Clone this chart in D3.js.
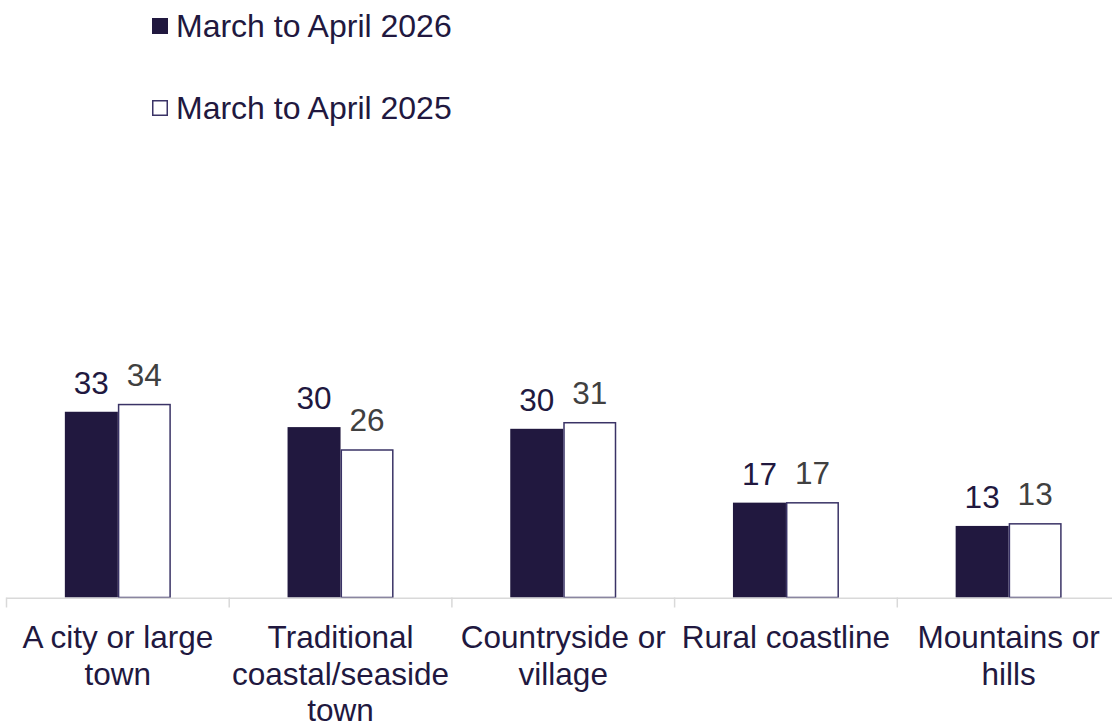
<!DOCTYPE html>
<html>
<head>
<meta charset="utf-8">
<script src="https://cdn.jsdelivr.net/npm/d3@7"></script>
<style>
  html, body { margin: 0; padding: 0; background: #ffffff; }
  svg { display: block; font-family: "Liberation Sans", Arial, sans-serif; }
</style>
</head>
<body>
<svg id="chart" width="1112" height="721"></svg>
<script>
const categories = ["A city or large town", "Traditional coastal/seaside town", "Countryside or village", "Rural coastline", "Mountains or hills"];
const seriesNames = ["March to April 2026", "March to April 2025"];
const values2026 = [32.7, 30.0, 29.7, 16.7, 12.6];
const values2025 = [34.1, 26.1, 30.9, 16.8, 13.1];

const W = 1112, H = 721;
const baseY = 597.5;
const svg = d3.select("#chart");

const navy = "#21183f";
const outline = "#3a3366";
const grey = "#404040";
const axisGrey = "#d9d9d9";

const x0 = d3.scaleBand().domain(categories).range([6.5, 1120]).paddingInner(0).paddingOuter(0);
const pairWidth = 106;
const x1 = d3.scaleBand().domain(seriesNames).range([0, pairWidth]).padding(0);
const y = d3.scaleLinear().domain([0, 40]).range([baseY, baseY - 40 * 5.68]);

const data = categories.map((c, i) => ({ cat: c, vals: [
  { s: seriesNames[0], v: values2026[i] },
  { s: seriesNames[1], v: values2025[i] }
]}));

const off = (x0.bandwidth() - pairWidth) / 2;

const groups = svg.append("g").selectAll("g").data(data).join("g")
  .attr("transform", d => `translate(${x0(d.cat) + off},0)`);

groups.selectAll("rect").data(d => d.vals).join("rect")
  .attr("x", d => x1(d.s) + (d.s === seriesNames[1] ? 0.75 : 0))
  .attr("width", d => x1.bandwidth() - (d.s === seriesNames[1] ? 1.5 : 0))
  .attr("y", d => y(d.v) + (d.s === seriesNames[1] ? 0.75 : 0))
  .attr("height", d => baseY - y(d.v) - (d.s === seriesNames[1] ? 0.75 : 0))
  .attr("fill", d => d.s === seriesNames[0] ? navy : "#ffffff")
  .attr("stroke", d => d.s === seriesNames[0] ? "none" : outline)
  .attr("stroke-width", 1.5);

groups.selectAll("text").data(d => d.vals).join("text")
  .attr("x", d => x1(d.s) + x1.bandwidth() / 2)
  .attr("y", d => y(d.v) - 18)
  .attr("text-anchor", "middle")
  .attr("font-size", "31.5px")
  .attr("fill", d => d.s === seriesNames[0] ? navy : grey)
  .text(d => d3.format(".0f")(d.v));

// axis line
svg.append("line")
  .attr("x1", 6.5).attr("x2", W)
  .attr("y1", baseY + 0.75).attr("y2", baseY + 0.75)
  .attr("stroke", axisGrey).attr("stroke-width", 1.5);

// boundary ticks
const bounds = categories.map(c => x0(c)).concat([x0.range()[1]]);
svg.append("g").selectAll("line").data(bounds).join("line")
  .attr("x1", d => d).attr("x2", d => d)
  .attr("y1", baseY).attr("y2", baseY + 10)
  .attr("stroke", axisGrey).attr("stroke-width", 1.5);

// category labels via axis
const axis = d3.axisBottom(x0).tickSize(0).tickPadding(0);
const axG = svg.append("g").attr("transform", `translate(0,${baseY})`).call(axis);
axG.select(".domain").remove();
axG.selectAll(".tick text").remove();

const lineH = 36.5;
function wrapWords(text, maxW, fontSize) {
  const ctx = document.createElement("canvas").getContext("2d");
  ctx.font = `${fontSize}px "Liberation Sans", Arial, sans-serif`;
  const words = text.split(" ");
  const lines = [];
  let cur = "";
  words.forEach(w => {
    const t = cur ? cur + " " + w : w;
    if (ctx.measureText(t).width > maxW && cur) { lines.push(cur); cur = w; }
    else cur = t;
  });
  if (cur) lines.push(cur);
  return lines;
}

axG.selectAll(".tick").each(function(d) {
  const lines = wrapWords(d, x0.bandwidth() - 4, 31.5);
  const t = d3.select(this).append("text")
    .attr("text-anchor", "middle")
    .attr("font-size", "31.5px")
    .attr("fill", navy);
  lines.forEach((ln, i) => {
    t.append("tspan").attr("x", 0).attr("y", 50.5 + i * lineH).text(ln);
  });
});

// legend
const legend = svg.append("g");
const legY = [37, 119];
seriesNames.forEach((s, i) => {
  const g = legend.append("g");
  if (i === 0) {
    g.append("rect").attr("x", 152).attr("y", legY[i] - 19).attr("width", 16).attr("height", 16).attr("fill", navy);
  } else {
    g.append("rect").attr("x", 152.75).attr("y", legY[i] - 18.25).attr("width", 14.5).attr("height", 14.5)
      .attr("fill", "#ffffff").attr("stroke", outline).attr("stroke-width", 1.5);
  }
  g.append("text").attr("x", 176).attr("y", legY[i])
    .attr("font-size", "32px").attr("fill", navy).text(s);
});
</script>
</body>
</html>
